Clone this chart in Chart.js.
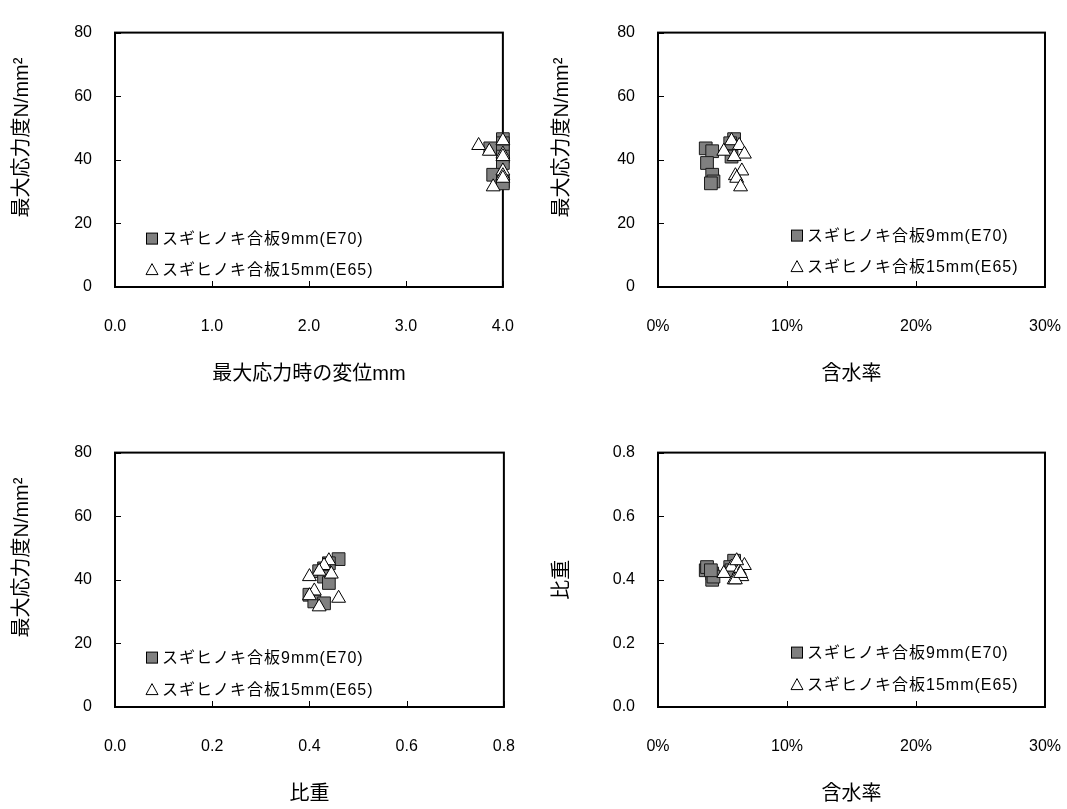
<!DOCTYPE html>
<html>
<head>
<meta charset="utf-8">
<script src="https://cdn.jsdelivr.net/npm/chart.js@4/dist/chart.umd.min.js"></script>
<style>
  html, body { margin: 0; padding: 0; background: #fff; }
  body { position: relative; width: 1067px; height: 809px; overflow: hidden; }
  canvas { position: absolute; }
</style>
</head>
<body>
<canvas id="c1" width="544" height="389" style="left:0;top:0"></canvas>
<canvas id="c2" width="551" height="389" style="left:540px;top:0"></canvas>
<canvas id="c3" width="545" height="389" style="left:0;top:420px"></canvas>
<canvas id="c4" width="551" height="389" style="left:540px;top:420px"></canvas>
<script>
// series names
const seriesNames = ['スギヒノキ合板9mm(E70)', 'スギヒノキ合板15mm(E65)'];

// 9mm (E70) specimens
const stress9 = [46.5, 45.2, 43.6, 42.7, 41.0, 39.0, 35.3, 33.2, 32.6];
const disp9   = [4.00, 4.00, 3.87, 4.00, 4.00, 4.00, 3.90, 4.00, 4.00];
const moist9  = [5.9, 5.6, 3.7, 4.2, 5.7, 3.8, 4.2, 4.3, 4.1];
const sg9     = [0.46, 0.44, 0.43, 0.42, 0.43, 0.44, 0.40, 0.41, 0.43];

// 15mm (E65) specimens
const stress15 = [46.0, 44.5, 42.7, 41.8, 41.0, 36.5, 35.0, 34.2, 31.5];
const disp15   = [4.00, 3.75, 3.86, 4.00, 4.00, 4.00, 4.00, 4.00, 3.90];
const moist15  = [5.7, 6.3, 5.1, 6.7, 5.9, 6.5, 6.0, 6.1, 6.4];
const sg15     = [0.44, 0.43, 0.42, 0.445, 0.40, 0.41, 0.40, 0.46, 0.42];

// tick values
const stressTicks = [0, 20, 40, 60, 80];
const dispTicks   = [0, 1, 2, 3, 4];
const moistTicks  = [0, 10, 20, 30];
const sgTicks     = [0, 0.2, 0.4, 0.6, 0.8];

const FAMILY = "'Liberation Sans', 'Noto Sans CJK JP', sans-serif";
Chart.defaults.font.family = FAMILY;
Chart.defaults.color = '#000';

const fmt1 = v => Number(v).toFixed(1);
const fmtPct = v => Math.round(v) + '%';
const fmtInt = v => String(Math.round(v));

// plot frame + inward tick marks
const framePlugin = {
  id: 'frame',
  beforeDatasetsDraw(chart) {
    const {ctx, chartArea: a, scales: {x, y}} = chart;
    ctx.save();
    ctx.strokeStyle = '#000';
    ctx.lineWidth = 2;
    ctx.strokeRect(a.left, a.top, a.right - a.left, a.bottom - a.top);
    ctx.lineWidth = 1;
    ctx.beginPath();
    x.ticks.forEach(t => {
      const px = Math.round(x.getPixelForValue(t.value)) + 0.5;
      ctx.moveTo(px, a.bottom);
      ctx.lineTo(px, a.bottom - 6);
    });
    y.ticks.forEach(t => {
      const py = Math.round(y.getPixelForValue(t.value)) + 0.5;
      ctx.moveTo(a.left, py);
      ctx.lineTo(a.left + 6, py);
    });
    ctx.stroke();
    ctx.restore();
  }
};

// legend drawn inside the plot
const legendPlugin = {
  id: 'boxLegend',
  afterDraw(chart, args, opts) {
    const {ctx, chartArea: a} = chart;
    ctx.save();
    ctx.font = '16px ' + FAMILY;
    ctx.letterSpacing = '1px';
    ctx.textBaseline = 'middle';
    ctx.textAlign = 'left';
    chart.data.datasets.forEach((ds, i) => {
      const cx = a.left + opts.x;
      const cy = a.top + opts.y + i * opts.gap;
      ctx.lineWidth = 1;
      ctx.strokeStyle = '#000';
      if (ds.pointStyle === 'rect') {
        ctx.fillStyle = ds.backgroundColor;
        ctx.fillRect(cx - 5.5, cy - 5.5, 11, 11);
        ctx.strokeRect(cx - 5.5, cy - 5.5, 11, 11);
      } else {
        ctx.beginPath();
        ctx.moveTo(cx, cy - 6);
        ctx.lineTo(cx + 6, cy + 5);
        ctx.lineTo(cx - 6, cy + 5);
        ctx.closePath();
        ctx.fillStyle = '#fff';
        ctx.fill();
        ctx.stroke();
      }
      ctx.fillStyle = '#000';
      ctx.fillText(ds.label, cx + 10, cy + 1);
    });
    ctx.restore();
  }
};

function pairs(xs, ys) {
  return xs.map((v, i) => ({x: v, y: ys[i]}));
}

function panel(id, xs, ys, xTicks, yTicks, xFmt, yFmt, xTitle, yTitle, yWidth, padRight, leg) {
  new Chart(document.getElementById(id), {
    type: 'scatter',
    data: {
      datasets: [{
        label: seriesNames[0],
        data: pairs(xs[0], ys[0]),
        pointStyle: 'rect',
        pointRadius: 9,
        backgroundColor: '#808080',
        borderColor: '#1a1a1a',
        borderWidth: 1,
        order: 1,
        clip: false
      }, {
        label: seriesNames[1],
        data: pairs(xs[1], ys[1]),
        pointStyle: 'triangle',
        pointRadius: 8,
        backgroundColor: '#ffffff',
        borderColor: '#000000',
        borderWidth: 1,
        order: 0,
        clip: false
      }]
    },
    options: {
      responsive: false,
      animation: false,
      events: [],
      layout: {padding: {top: 17, right: padRight, left: 0, bottom: 0}},
      plugins: {legend: {display: false}, tooltip: {enabled: false}, boxLegend: leg},
      scales: {
        x: {
          type: 'linear',
          min: xTicks[0],
          max: xTicks[xTicks.length - 1],
          afterBuildTicks: s => { s.ticks = xTicks.map(v => ({value: v})); },
          afterFit: s => { s.height = 102; },
          grid: {display: false, drawTicks: false},
          border: {display: false},
          ticks: {padding: 30, font: {size: 16}, callback: xFmt, maxRotation: 0, autoSkip: false},
          title: {display: true, text: xTitle, font: {size: 20}, padding: {top: 0, bottom: 3}}
        },
        y: {
          type: 'linear',
          min: yTicks[0],
          max: yTicks[yTicks.length - 1],
          afterBuildTicks: s => { s.ticks = yTicks.map(v => ({value: v})); },
          afterFit: s => { s.width = yWidth; },
          grid: {display: false, drawTicks: false},
          border: {display: false},
          ticks: {padding: 23, font: {size: 16}, callback: yFmt, autoSkip: false},
          title: {display: true, text: yTitle, font: {size: 20}, padding: {top: 10, bottom: 0}}
        }
      }
    },
    plugins: [framePlugin, legendPlugin]
  });
}

const stressTitle = '        最大応力度N/mm²';

panel('c1', [disp9, disp15], [stress9, stress15], dispTicks, stressTicks, fmt1, fmtInt,
  '最大応力時の変位mm', stressTitle, 115, 34, {x: 37, y: 206, gap: 31});
panel('c2', [moist9, moist15], [stress9, stress15], moistTicks, stressTicks, fmtPct, fmtInt,
  '含水率', stressTitle, 118, 22, {x: 139, y: 203, gap: 31});
panel('c3', [sg9, sg15], [stress9, stress15], sgTicks, stressTicks, fmt1, fmtInt,
  '比重', stressTitle, 115, 33, {x: 37, y: 205, gap: 32});
panel('c4', [moist9, moist15], [sg9, sg15], moistTicks, sgTicks, fmtPct, fmt1,
  '含水率', '比重', 118, 22, {x: 139, y: 200, gap: 32});
</script>
</body>
</html>
